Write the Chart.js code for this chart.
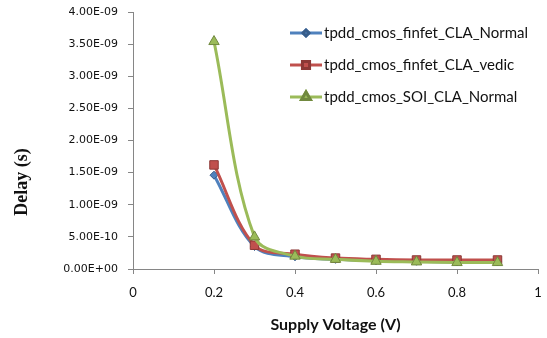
<!DOCTYPE html>
<html>
<head>
<meta charset="utf-8">
<script src="https://cdn.jsdelivr.net/npm/chart.js@4.4.0/dist/chart.umd.min.js"></script>
<style>
  html, body { margin: 0; padding: 0; background: #fff; }
  #wrap { width: 547px; height: 338px; }
</style>
</head>
<body>
<div id="wrap"><canvas id="delayChart" width="547" height="338"></canvas></div>
<script>
// ===================================
// Data (delay in ns, shown as seconds on the axis)
// ===================================
const supplyVoltage = [0.2, 0.3, 0.4, 0.5, 0.6, 0.7, 0.8, 0.9];
const delayFinfetNormal = [1.46, 0.35, 0.19, 0.15, 0.13, 0.12, 0.11, 0.11];
const delayFinfetVedic = [1.62, 0.37, 0.23, 0.17, 0.15, 0.14, 0.14, 0.14];
const delaySoiNormal = [3.54, 0.5, 0.2, 0.15, 0.12, 0.11, 0.1, 0.1];

const seriesNames = [
  "tpdd_cmos_finfet_CLA_Normal",
  "tpdd_cmos_finfet_CLA_vedic",
  "tpdd_cmos_SOI_CLA_Normal",
];
const xTickLabels = ["0", "0.2", "0.4", "0.6", "0.8", "1"];
const yTickLabels = [
  "0.00E+00", "5.00E-10", "1.00E-09", "1.50E-09", "2.00E-09",
  "2.50E-09", "3.00E-09", "3.50E-09", "4.00E-09",
];

// ===================================
// Styles
// ===================================
const seriesStyles = [
  { line: "#4F81BD", fill: "#4F81BD", border: "#385D8A", point: "rectRot", radius: 4 },
  { line: "#C0504D", fill: "#C0504D", border: "#8C3836", point: "rect", radius: 6 },
  { line: "#9BBB59", fill: "#9BBB59", border: "#71893F", point: "triangle", radius: 6 },
];

function toPoints(values) {
  return values.map((v, i) => ({ x: supplyVoltage[i], y: v }));
}

const allSeries = [delayFinfetNormal, delayFinfetVedic, delaySoiNormal];

const datasets = allSeries.map((values, i) => ({
  label: seriesNames[i],
  data: toPoints(values),
  borderColor: seriesStyles[i].line,
  backgroundColor: seriesStyles[i].fill,
  pointBackgroundColor: seriesStyles[i].fill,
  pointBorderColor: seriesStyles[i].border,
  pointBorderWidth: 1,
  pointStyle: seriesStyles[i].point,
  pointRadius: seriesStyles[i].radius,
  borderWidth: 3,
  tension: 0.35,
  fill: false,
  order: 3 - i,
}));

// Legend drawn inside the plot area, top right
const insideLegend = {
  id: "insideLegend",
  afterDraw(chart) {
    const ctx = chart.ctx;
    const area = chart.chartArea;
    const x0 = area.left + 157;
    const y0 = area.top + 21;
    ctx.save();
    seriesNames.forEach((name, i) => {
      const st = seriesStyles[i];
      const y = y0 + i * 32;
      ctx.strokeStyle = st.line;
      ctx.lineWidth = 3;
      ctx.beginPath();
      ctx.moveTo(x0, y);
      ctx.lineTo(x0 + 32, y);
      ctx.stroke();
      Chart.helpers.drawPoint(ctx, {
        pointStyle: st.point,
        radius: st.radius - 1,
        borderWidth: 1,
      }, x0 + 16, y);
      ctx.fillStyle = st.fill;
      ctx.strokeStyle = st.border;
      ctx.fill();
      ctx.stroke();
      ctx.fillStyle = "#111";
      ctx.font = "15px Lato";
      ctx.textBaseline = "middle";
      ctx.textAlign = "left";
      ctx.fillText(name, x0 + 34, y);
    });
    ctx.restore();
  },
};

// Rotated y axis title
const yTitle = {
  id: "yTitle",
  afterDraw(chart) {
    const ctx = chart.ctx;
    ctx.save();
    ctx.translate(22, 182);
    ctx.rotate(-Math.PI / 2);
    ctx.fillStyle = "#111";
    ctx.font = "bold 18px 'Liberation Serif'";
    ctx.textAlign = "center";
    ctx.textBaseline = "middle";
    ctx.fillText("Delay (s)", 0, 0);
    ctx.restore();
  },
};

new Chart(document.getElementById("delayChart"), {
  type: "line",
  data: { datasets: datasets },
  plugins: [insideLegend, yTitle],
  options: {
    responsive: false,
    animation: false,
    layout: { padding: { left: 0, right: 9, top: 12, bottom: 0 } },
    plugins: {
      legend: { display: false },
      tooltip: { enabled: false },
    },
    scales: {
      x: {
        type: "linear",
        min: 0,
        max: 1,
        afterBuildTicks(scale) {
          scale.ticks = xTickLabels.map((_, i) => ({ value: i * 0.2 }));
        },
        afterFit(scale) {
          scale.height = 69;
          scale.paddingLeft = 0;
          scale.paddingRight = 0;
        },
        border: { color: "#868686", width: 1 },
        grid: { drawOnChartArea: false, tickLength: 5, color: "#868686" },
        ticks: {
          color: "#111",
          font: { family: "Lato", size: 13 },
          padding: 11,
          maxRotation: 0,
          callback: (v, i) => xTickLabels[i],
        },
        title: {
          display: true,
          text: "Supply Voltage (V)",
          color: "#111",
          font: { family: "Lato", size: 16, weight: "bold" },
          padding: { top: 1 },
        },
      },
      y: {
        min: 0,
        max: 4,
        afterBuildTicks(scale) {
          scale.ticks = yTickLabels.map((_, i) => ({ value: i * 0.5 }));
        },
        afterFit(scale) {
          scale.width = 133;
          scale.paddingTop = 0;
          scale.paddingBottom = 0;
        },
        border: { color: "#868686", width: 1 },
        grid: { drawOnChartArea: false, tickLength: 5, color: "#868686" },
        ticks: {
          color: "#111",
          font: { family: "DejaVu Sans", size: 11 },
          padding: 10,
          callback: (v, i) => yTickLabels[i],
        },
      },
    },
  },
});
</script>
</body>
</html>
